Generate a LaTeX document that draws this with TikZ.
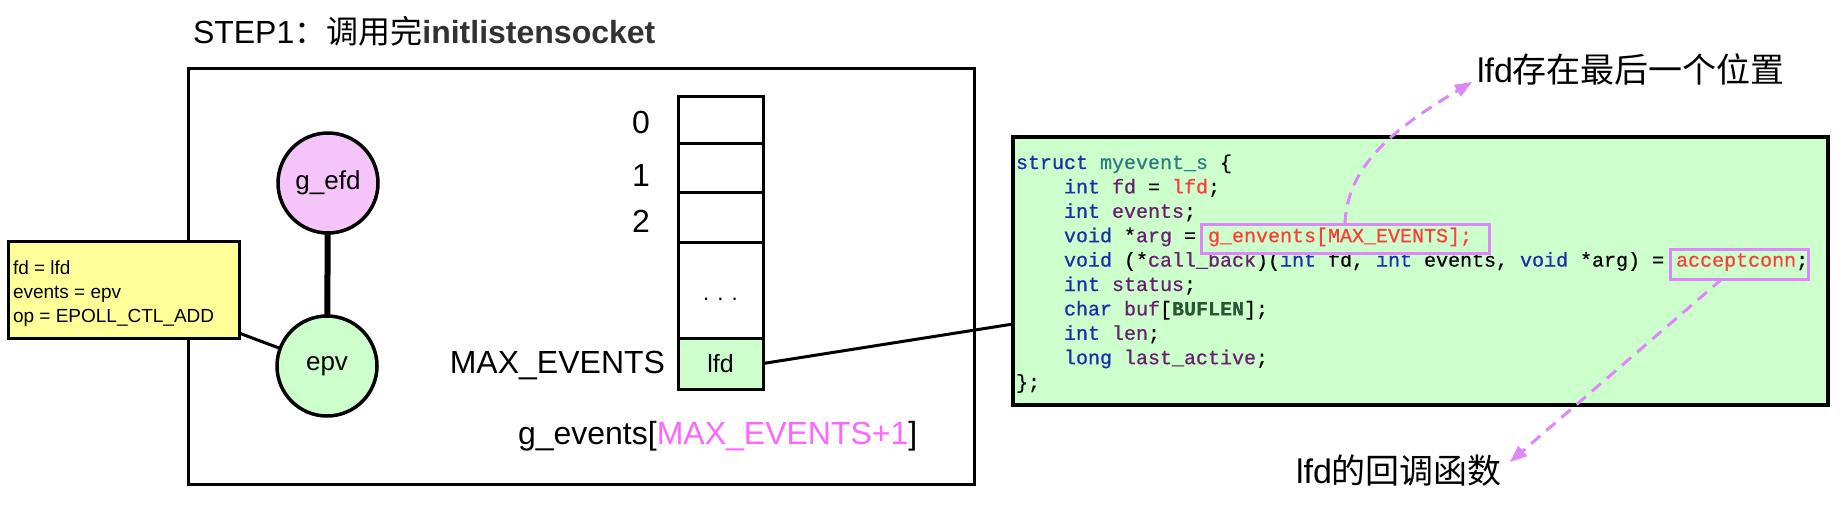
\documentclass[tikz,border=0pt]{standalone}
\usepackage{fontspec}
\setmainfont{Liberation Sans}
\newfontfamily\cjk{Noto Sans CJK SC}
\newfontfamily\codefont[FakeBold=0.6]{Liberation Mono}
\usetikzlibrary{arrows.meta}
\definecolor{yfill}{RGB}{255,255,153}
\definecolor{gfill}{RGB}{204,255,204}
\definecolor{pfill}{RGB}{245,196,250}
\definecolor{viol}{RGB}{222,135,250}
\definecolor{pinktxt}{RGB}{255,102,255}
\definecolor{kwblue}{RGB}{28,44,170}
\definecolor{idpurple}{RGB}{102,32,110}
\definecolor{tealc}{RGB}{45,125,125}
\definecolor{redc}{RGB}{255,60,60}
\definecolor{bufgreen}{RGB}{40,85,50}
\definecolor{titlegray}{RGB}{50,50,50}
\newcommand\ckw[1]{\textcolor{kwblue}{#1}}
\newcommand\cid[1]{\textcolor{idpurple}{#1}}
\newcommand\cred[1]{\textcolor{redc}{#1}}
\newcommand\cteal[1]{\textcolor{tealc}{#1}}
\begin{document}
\begin{tikzpicture}[x=1pt,y=-1pt,
  every node/.style={inner sep=0pt, outer sep=0pt},
  box/.style={draw, line width=3pt},
  cell/.style={draw, line width=3pt, minimum width=85pt},
  circ/.style={circle, draw, line width=3.5pt, minimum size=100pt, font=\fontsize{26}{30}\selectfont},
  lbl/.style={font=\fontsize{32}{38}\selectfont},
  ytext/.style={anchor=base west, font=\fontsize{19}{23}\selectfont},
  codeline/.style={anchor=base west, font=\codefont\fontsize{20}{24}\selectfont},
  hl/.style={draw=viol, line width=3pt},
  note/.style={anchor=base west, font=\fontsize{34}{40}\selectfont},
  darrow/.style={draw=viol, line width=3pt, dash pattern=on 12pt off 8pt, -{Triangle[length=17pt,width=13pt]}}
]
\path[use as bounding box, fill=white] (0,0) rectangle (1844,506);

% title
\node[anchor=base west, font=\fontsize{32}{38}\selectfont] (title) at (193,43)
  {STEP1{\cjk ：调用完}\textbf{\color{titlegray}initlistensocket}};

% main frame
\node[box, minimum width=786pt, minimum height=416pt, anchor=north west] (main) at (188,68) {};

% circles
\node[circ, fill=pfill] (gefd) at (328,183) {g\_efd};
\node[circ, fill=gfill] (epv) at (327,366) {epv};
\draw[line width=6pt] (gefd) -- (epv);

% yellow box
\node[box, fill=yfill, minimum width=231pt, minimum height=97pt, anchor=north west] (yb) at (8,241) {};
\node[ytext] (yb1) at (13,274) {fd = lfd};
\node[ytext] (yb2) at (13,298) {events = epv};
\node[ytext] (yb3) at (13,322) {op = EPOLL\_CTL\_ADD};
\draw[line width=3pt] ([yshift=5pt]yb.south east) -- (epv);

% array
\node[cell, minimum height=47pt] (c0) at (720.5,119.5) {};
\node[cell, minimum height=49pt] (c1) at (720.5,167.5) {};
\node[cell, minimum height=50pt] (c2) at (720.5,217) {};
\node[cell, minimum height=96pt] (cd) at (720.5,290) {};
\node[cell, minimum height=51pt, fill=gfill] (cl) at (720.5,363.5) {};
\node[anchor=base, font=\fontsize{22}{26}\selectfont] (dots) at (720.5,300) {. . .};
\node[anchor=base, font=\fontsize{25}{30}\selectfont] (lfdtxt) at (720.5,372) {lfd};

\node[lbl, anchor=base] (i0) at (641,133) {0};
\node[lbl, anchor=base] (i1) at (641,186) {1};
\node[lbl, anchor=base] (i2) at (641,232) {2};
\node[lbl, anchor=base east] (imax) at (665,373) {MAX\_EVENTS};
\node[lbl, anchor=base west] (garr) at (518,444) {g\_events[\textcolor{pinktxt}{MAX\_EVENTS+1}]};

% code box
\node[fill=gfill, draw, line width=3.5pt, minimum width=815pt, minimum height=268pt, anchor=north west] (codebox) at (1013,137) {};
\draw[line width=3pt] (cl.east) -- ([yshift=-53pt]codebox.west);

\node[codeline] (k1) at (1016,169) {\ckw{struct} \cteal{myevent\_s} \{};
\node[codeline] (k2) at (1064,193.4) {\ckw{int} \cid{fd} = \cred{lfd};};
\node[codeline] (k3) at (1064,217.8) {\ckw{int} \cid{events};};
\node[codeline] (k4) at (1064,242.2) {\ckw{void} *\cid{arg} = \cred{g\_envents[MAX\_EVENTS];}};
\node[codeline] (k5) at (1064,266.6) {\ckw{void} (*\cid{call\_back})(\ckw{int} fd, \ckw{int} events, \ckw{void} *arg) = \cred{acceptconn};};
\node[codeline] (k6) at (1064,291) {\ckw{int} \cid{status};};
\node[codeline] (k7) at (1064,315.4) {\ckw{char} \cid{buf}[\textbf{\color{bufgreen}BUFLEN}];};
\node[codeline] (k8) at (1064,339.8) {\ckw{int} \cid{len};};
\node[codeline] (k9) at (1064,364.2) {\ckw{long} \cid{last\_active};};
\node[codeline] (k10) at (1016,388.6) {\};};

% highlights
\node[hl, minimum width=288pt, minimum height=29pt, anchor=north west] (hlarg) at (1201,224) {};
\node[hl, minimum width=138pt, minimum height=30pt, anchor=north west] (hlcb) at (1670,249) {};

% notes
\node[note] (n1) at (1477,82) {lfd{\cjk 存在最后一个位置}};
\node[note] (n2) at (1296,483) {lfd{\cjk 的回调函数}};

\draw[darrow] (hlarg.north) .. controls (1347,165) and (1395,128) .. ([xshift=-5pt]n1.base west);
\draw[darrow] ([xshift=-17pt]hlcb.south) -- ([xshift=8pt,yshift=21pt]n2.base east);
\end{tikzpicture}
\end{document}
